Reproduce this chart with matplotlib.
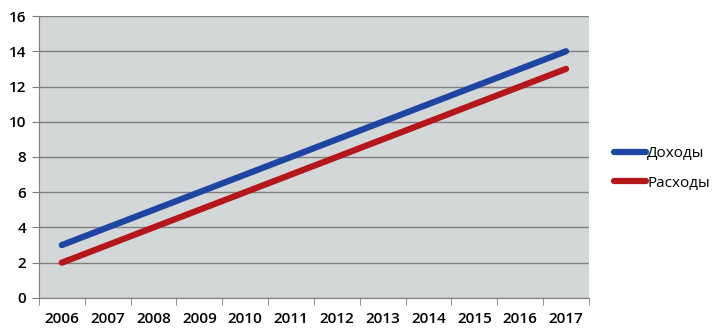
import numpy as np
import matplotlib.pyplot as plt
from matplotlib.ticker import FixedLocator

plt.rcParams['font.family'] = ['Open Sans', 'DejaVu Sans']

years = ['2006', '2007', '2008', '2009', '2010', '2011',
         '2012', '2013', '2014', '2015', '2016', '2017']
income = [3, 4, 5, 6, 7, 8, 9, 10, 11, 12, 13, 14]
expenses = [2, 3, 4, 5, 6, 7, 8, 9, 10, 11, 12, 13]

fig = plt.figure(figsize=(7.2, 3.34), dpi=100)
ax = fig.add_axes([0.054, 0.108, 0.764, 0.844])
ax.set_facecolor('#d4d7d8')

x = np.arange(len(years))
ax.plot(x, income, color='#1f45a3', linewidth=4.5, solid_capstyle='round', label='Доходы')
ax.plot(x, expenses, color='#b3171b', linewidth=4.5, solid_capstyle='round', label='Расходы')

ax.set_xlim(-0.5, len(years) - 0.5)
ax.set_ylim(0, 16)
ax.set_yticks(range(0, 17, 2))
ax.yaxis.grid(True, color='#7f7f7f', linewidth=1)
ax.set_axisbelow(True)

ax.set_xticks(x)
ax.set_xticklabels(years)
ax.xaxis.set_minor_locator(FixedLocator(np.arange(-0.5, len(years), 1)))
ax.tick_params(axis='x', which='major', length=0, pad=10)
ax.tick_params(axis='x', which='minor', length=5, color='#7f7f7f')
ax.tick_params(axis='y', length=5, color='#7f7f7f', pad=4)
ax.tick_params(labelsize=11)
for lbl in ax.get_xticklabels() + ax.get_yticklabels():
    lbl.set_fontweight('semibold')

for side in ['top', 'right']:
    ax.spines[side].set_visible(False)
for side in ['left', 'bottom']:
    ax.spines[side].set_color('#7f7f7f')

ax.legend(loc='center left', bbox_to_anchor=(1.02, 0.46), frameon=False,
          handlelength=2.1, handletextpad=0.1, labelspacing=0.95, fontsize=11)

plt.savefig('out.png', dpi=100)
